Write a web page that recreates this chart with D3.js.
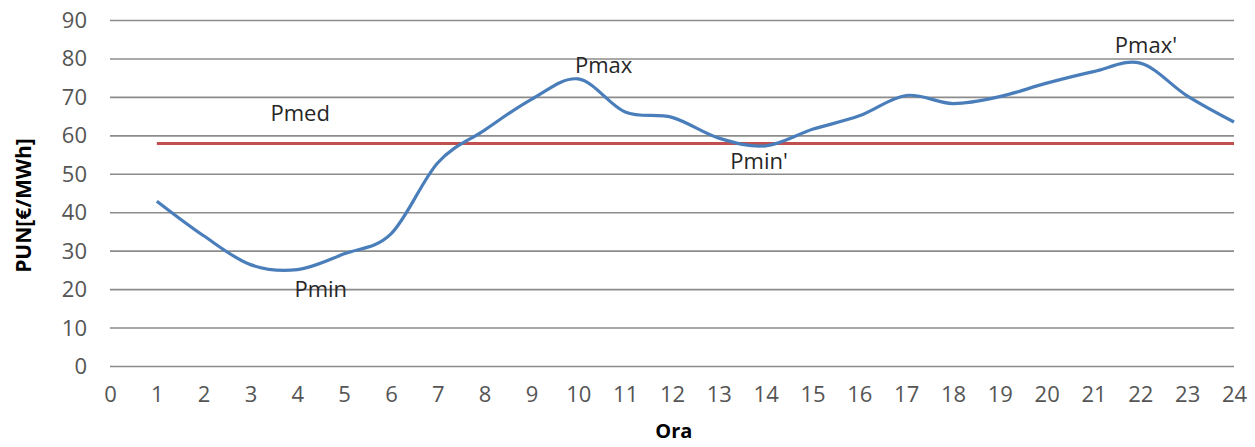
<!DOCTYPE html>
<html>
<head>
<meta charset="utf-8">
<script src="https://cdn.jsdelivr.net/npm/d3@7"></script>
<style>
  html, body { margin: 0; padding: 0; background: #ffffff; }
  svg { display: block; }
  text { font-family: "Open Sans", "Noto Sans", sans-serif; }
</style>
</head>
<body>
<svg id="chart" width="1255" height="447"></svg>
<script>
// Hourly single national price (PUN) over a day
const hours = d3.range(1, 25);
const pun = [43, 34, 26.5, 25.2, 29.3, 34.5, 53, 61.5, 69.5, 74.8, 66.2, 64.8,
             59.4, 57.4, 61.7, 65.2, 70.5, 68.4, 70.2, 73.7, 76.7, 78.9, 70.4, 63.6];
const pmed = 58;

// Axis ticks
const xTicks = d3.range(0, 25);
const yTicks = [0, 10, 20, 30, 40, 50, 60, 70, 80, 90];

// Annotation texts and their anchors (hour, value)
const noteText = ["Pmed", "Pmin", "Pmax", "Pmin'", "Pmax'"];
const noteHour = [4.06, 4.5, 10.54, 13.86, 22.12];
const noteValue = [63.9, 18.0, 76.3, 51.3, 81.6];

const svg = d3.select("#chart");
const margin = { left: 110, right: 21, top: 20.5, bottom: 80.5 };
const W = +svg.attr("width"), H = +svg.attr("height");

const x = d3.scaleLinear().domain([0, 24]).range([margin.left, W - margin.right]);
const y = d3.scaleLinear().domain([0, 90]).range([H - margin.bottom, margin.top]);

// horizontal gridlines
svg.append("g")
  .selectAll("line")
  .data(yTicks)
  .join("line")
  .attr("x1", x(0)).attr("x2", x(24))
  .attr("y1", d => y(d)).attr("y2", d => y(d))
  .attr("stroke", "#8c8c8c")
  .attr("stroke-width", 1.6);

// y axis labels
const yAxis = d3.axisLeft(y).tickValues(yTicks).tickSize(0).tickPadding(0);
svg.append("g")
  .attr("transform", `translate(${x(0) - 23},0)`)
  .call(yAxis)
  .call(g => g.select(".domain").remove())
  .call(g => g.selectAll("text")
    .attr("fill", "#555555")
    .style("font-size", "22px")
    .style("font-family", "'Open Sans', sans-serif"));

// x axis labels
const xAxis = d3.axisBottom(x).tickValues(xTicks).tickSize(0).tickPadding(0);
svg.append("g")
  .attr("transform", `translate(0,${y(0) + 20})`)
  .call(xAxis)
  .call(g => g.select(".domain").remove())
  .call(g => g.selectAll("text")
    .attr("fill", "#555555")
    .style("font-size", "22px")
    .style("font-family", "'Open Sans', sans-serif"));

// average price line
svg.append("line")
  .attr("x1", x(hours[0])).attr("x2", x(hours[hours.length - 1]))
  .attr("y1", y(pmed)).attr("y2", y(pmed))
  .attr("stroke", "#c0504d")
  .attr("stroke-width", 3.2);

// smoothed hourly price line
const line = d3.line()
  .x((d, i) => x(hours[i]))
  .y(d => y(d))
  .curve(d3.curveCatmullRom.alpha(0));

svg.append("path")
  .datum(pun)
  .attr("d", line)
  .attr("fill", "none")
  .attr("stroke", "#4a7ebb")
  .attr("stroke-width", 3.2)
  .attr("stroke-linejoin", "round");

// annotations
svg.append("g")
  .selectAll("text")
  .data(noteText)
  .join("text")
  .attr("x", (d, i) => x(noteHour[i]))
  .attr("y", (d, i) => y(noteValue[i]))
  .attr("text-anchor", "middle")
  .attr("fill", "#262626")
  .style("font-size", "22px")
  .text(d => d);

// axis titles
svg.append("text")
  .attr("transform", `translate(31,${(y(0) + y(90)) / 2 + 12}) rotate(-90)`)
  .attr("text-anchor", "middle")
  .attr("fill", "#000")
  .style("font-size", "21px")
  .style("font-weight", "bold")
  .text("PUN[€/MWh]");

svg.append("text")
  .attr("x", x(12.04))
  .attr("y", H - 9)
  .attr("text-anchor", "middle")
  .attr("fill", "#000")
  .style("font-size", "20px")
  .style("font-weight", "bold")
  .text("Ora");
</script>
</body>
</html>
